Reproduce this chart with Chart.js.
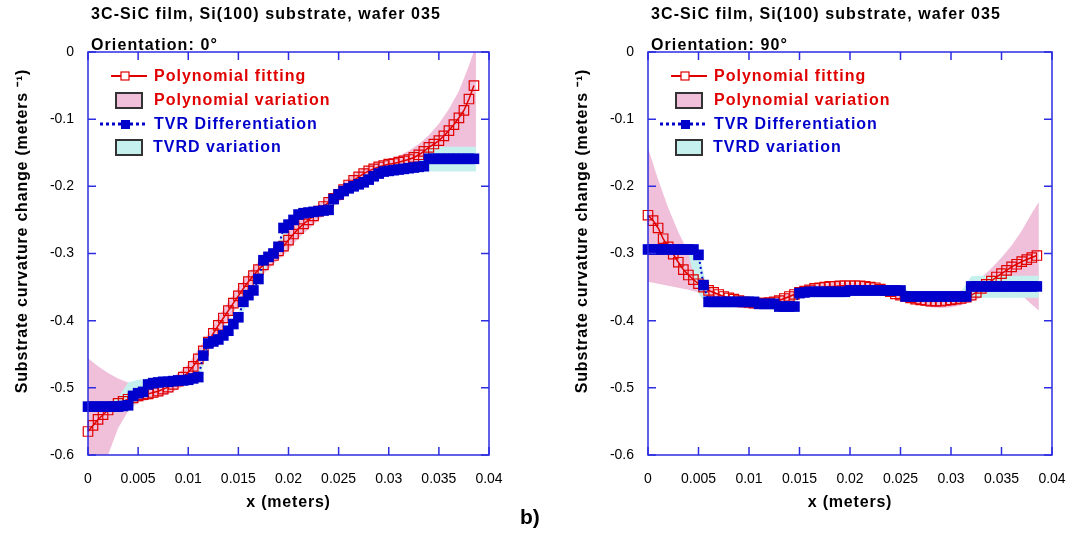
<!DOCTYPE html>
<html>
<head>
<meta charset="utf-8">
<script src="https://cdn.jsdelivr.net/npm/chart.js@4.4.1/dist/chart.umd.min.js"></script>
<style>
  body { margin: 0; background: #fff; width: 1072px; height: 533px; overflow: hidden; position: relative; }
  canvas { position: absolute; top: 0; }
  #c0 { left: 0; }
  #c90 { left: 536px; }
  #tag { position: absolute; left: 520px; top: 505px; font: bold 21px "Liberation Sans", Arial, sans-serif; }
</style>
</head>
<body>
<canvas id="c0" width="536" height="533"></canvas>
<canvas id="c90" width="536" height="533"></canvas>
<div id="tag">b)</div>
<script>
// x positions (meters) of the fitted / differentiated curves
const xFine = [0, 0.0005, 0.001, 0.0015, 0.002, 0.0025, 0.003, 0.0035, 0.004, 0.0045,
  0.005, 0.0055, 0.006, 0.0065, 0.007, 0.0075, 0.008, 0.0085, 0.009, 0.0095,
  0.010, 0.0105, 0.011, 0.0115, 0.012, 0.0125, 0.013, 0.0135, 0.014, 0.0145,
  0.015, 0.0155, 0.016, 0.0165, 0.017, 0.0175, 0.018, 0.0185, 0.019, 0.0195,
  0.020, 0.0205, 0.021, 0.0215, 0.022, 0.0225, 0.023, 0.0235, 0.024, 0.0245,
  0.025, 0.0255, 0.026, 0.0265, 0.027, 0.0275, 0.028, 0.0285, 0.029, 0.0295,
  0.030, 0.0305, 0.031, 0.0315, 0.032, 0.0325, 0.033, 0.0335, 0.034, 0.0345,
  0.035, 0.0355, 0.036, 0.0365, 0.037, 0.0375, 0.038, 0.0385];
// x positions of the variation bands
const xBand = [0, 0.001, 0.002, 0.003, 0.004, 0.005, 0.006, 0.007, 0.008, 0.009,
  0.010, 0.011, 0.012, 0.013, 0.014, 0.015, 0.016, 0.017, 0.018, 0.019,
  0.020, 0.021, 0.022, 0.023, 0.024, 0.025, 0.026, 0.027, 0.028, 0.029,
  0.030, 0.031, 0.032, 0.033, 0.034, 0.035, 0.036, 0.037, 0.038, 0.0387];

// Orientation 0 deg
const fit0 = [-0.565, -0.556, -0.547, -0.540, -0.533, -0.528, -0.523, -0.520, -0.517, -0.515,
  -0.512, -0.510, -0.509, -0.507, -0.505, -0.502, -0.499, -0.495, -0.490, -0.484,
  -0.477, -0.468, -0.457, -0.445, -0.432, -0.419, -0.407, -0.396, -0.385, -0.374,
  -0.363, -0.352, -0.342, -0.333, -0.324, -0.317, -0.310, -0.303, -0.296, -0.289,
  -0.280, -0.271, -0.263, -0.256, -0.250, -0.244, -0.237, -0.230, -0.224, -0.218,
  -0.212, -0.205, -0.198, -0.191, -0.186, -0.181, -0.177, -0.174, -0.171, -0.169,
  -0.167, -0.166, -0.164, -0.162, -0.160, -0.157, -0.153, -0.148, -0.142, -0.137,
  -0.132, -0.125, -0.117, -0.108, -0.098, -0.087, -0.070, -0.050];
const tvr0 = [-0.528, -0.528, -0.528, -0.528, -0.528, -0.528, -0.528, -0.527, -0.526, -0.512,
  -0.508, -0.506, -0.495, -0.493, -0.492, -0.491, -0.491, -0.490, -0.489, -0.489,
  -0.488, -0.486, -0.484, -0.452, -0.434, -0.431, -0.428, -0.422, -0.415, -0.405,
  -0.395, -0.372, -0.362, -0.355, -0.338, -0.310, -0.305, -0.300, -0.290, -0.262,
  -0.257, -0.250, -0.242, -0.240, -0.239, -0.238, -0.237, -0.236, -0.235, -0.219,
  -0.212, -0.207, -0.203, -0.200, -0.197, -0.194, -0.190, -0.185, -0.181, -0.178,
  -0.177, -0.176, -0.175, -0.174, -0.173, -0.172, -0.171, -0.170, -0.159, -0.159,
  -0.159, -0.159, -0.159, -0.159, -0.159, -0.159, -0.159, -0.159];
const polyHi0 = [-0.456, -0.468, -0.478, -0.486, -0.492, -0.496, -0.496, -0.493, -0.488, -0.478,
  -0.465, -0.443, -0.420, -0.395, -0.372, -0.350, -0.330, -0.312, -0.298, -0.284,
  -0.268, -0.252, -0.239, -0.227, -0.214, -0.202, -0.188, -0.177, -0.170, -0.165,
  -0.160, -0.155, -0.147, -0.137, -0.124, -0.107, -0.085, -0.058, -0.020, 0.010];
const polyLo0 = [-0.660, -0.630, -0.600, -0.560, -0.535, -0.522, -0.518, -0.514, -0.509, -0.502,
  -0.491, -0.472, -0.446, -0.420, -0.398, -0.377, -0.356, -0.338, -0.323, -0.309,
  -0.295, -0.277, -0.264, -0.250, -0.236, -0.224, -0.211, -0.199, -0.190, -0.184,
  -0.181, -0.179, -0.177, -0.176, -0.174, -0.171, -0.168, -0.163, -0.155, -0.143];
const tvrdHi0 = [-0.522, -0.522, -0.522, -0.515, -0.492, -0.488, -0.486, -0.485, -0.484, -0.483,
  -0.481, -0.476, -0.428, -0.420, -0.408, -0.388, -0.355, -0.330, -0.298, -0.283,
  -0.250, -0.236, -0.233, -0.231, -0.229, -0.205, -0.196, -0.190, -0.183, -0.175,
  -0.171, -0.169, -0.167, -0.163, -0.142, -0.141, -0.141, -0.141, -0.141, -0.141];
const tvrdLo0 = [-0.535, -0.535, -0.535, -0.535, -0.535, -0.520, -0.502, -0.499, -0.498, -0.497,
  -0.495, -0.492, -0.442, -0.436, -0.423, -0.403, -0.370, -0.346, -0.312, -0.298,
  -0.265, -0.250, -0.246, -0.244, -0.243, -0.219, -0.210, -0.204, -0.197, -0.188,
  -0.184, -0.182, -0.180, -0.179, -0.178, -0.178, -0.178, -0.178, -0.178, -0.178];

// Orientation 90 deg
const fit90 = [-0.243, -0.251, -0.262, -0.278, -0.290, -0.301, -0.313, -0.324, -0.332, -0.339,
  -0.345, -0.350, -0.355, -0.358, -0.361, -0.364, -0.366, -0.368, -0.370, -0.372,
  -0.373, -0.374, -0.374, -0.374, -0.373, -0.372, -0.370, -0.367, -0.364, -0.361,
  -0.358, -0.356, -0.354, -0.352, -0.351, -0.350, -0.349, -0.349, -0.348, -0.348,
  -0.348, -0.348, -0.348, -0.349, -0.350, -0.351, -0.353, -0.355, -0.357, -0.360,
  -0.362, -0.364, -0.366, -0.368, -0.369, -0.370, -0.371, -0.371, -0.371, -0.370,
  -0.369, -0.368, -0.367, -0.365, -0.362, -0.358, -0.352, -0.346, -0.341, -0.335,
  -0.330, -0.325, -0.320, -0.316, -0.312, -0.309, -0.306, -0.303];
const tvr90 = [-0.294, -0.294, -0.294, -0.294, -0.294, -0.294, -0.294, -0.294, -0.294, -0.294,
  -0.302, -0.347, -0.372, -0.372, -0.372, -0.372, -0.372, -0.372, -0.372, -0.372,
  -0.372, -0.372, -0.375, -0.375, -0.375, -0.375, -0.379, -0.379, -0.379, -0.379,
  -0.359, -0.358, -0.357, -0.357, -0.357, -0.357, -0.357, -0.357, -0.357, -0.357,
  -0.355, -0.355, -0.355, -0.355, -0.355, -0.355, -0.355, -0.355, -0.355, -0.355,
  -0.355, -0.364, -0.364, -0.364, -0.364, -0.364, -0.364, -0.364, -0.364, -0.364,
  -0.364, -0.364, -0.364, -0.364, -0.349, -0.349, -0.349, -0.349, -0.349, -0.349,
  -0.349, -0.349, -0.349, -0.349, -0.349, -0.349, -0.349, -0.349];
const polyHi90 = [-0.143, -0.190, -0.232, -0.268, -0.298, -0.328, -0.350, -0.360, -0.364, -0.366,
  -0.367, -0.367, -0.366, -0.364, -0.358, -0.352, -0.348, -0.346, -0.344, -0.343,
  -0.343, -0.343, -0.344, -0.346, -0.350, -0.354, -0.358, -0.361, -0.362, -0.362,
  -0.360, -0.355, -0.347, -0.336, -0.322, -0.306, -0.288, -0.266, -0.240, -0.223];
const polyLo90 = [-0.342, -0.345, -0.348, -0.351, -0.354, -0.358, -0.365, -0.372, -0.378, -0.381,
  -0.382, -0.382, -0.381, -0.378, -0.372, -0.366, -0.361, -0.358, -0.356, -0.355,
  -0.354, -0.354, -0.356, -0.359, -0.363, -0.368, -0.373, -0.377, -0.380, -0.381,
  -0.380, -0.377, -0.372, -0.366, -0.360, -0.356, -0.355, -0.362, -0.376, -0.385];
const tvrdHi90 = [-0.287, -0.287, -0.287, -0.287, -0.287, -0.292, -0.365, -0.365, -0.365, -0.365,
  -0.365, -0.368, -0.368, -0.372, -0.372, -0.352, -0.350, -0.350, -0.350, -0.350,
  -0.348, -0.348, -0.348, -0.348, -0.348, -0.348, -0.357, -0.357, -0.357, -0.357,
  -0.357, -0.357, -0.334, -0.333, -0.333, -0.333, -0.333, -0.333, -0.333, -0.333];
const tvrdLo90 = [-0.301, -0.301, -0.301, -0.301, -0.301, -0.360, -0.379, -0.379, -0.379, -0.379,
  -0.379, -0.382, -0.382, -0.386, -0.386, -0.364, -0.364, -0.364, -0.364, -0.364,
  -0.362, -0.362, -0.362, -0.362, -0.362, -0.362, -0.371, -0.371, -0.371, -0.371,
  -0.371, -0.371, -0.366, -0.366, -0.366, -0.366, -0.366, -0.366, -0.366, -0.366];

const chartTitle = '3C-SiC film, Si(100) substrate, wafer 035';
const yTitle = 'Substrate curvature change (meters \u207B\u00B9)';
const xTitle = 'x (meters)';
const legendNames = ['Polynomial fitting', 'Polynomial variation', 'TVR Differentiation', 'TVRD variation'];

const FONT = '"Liberation Sans", Arial, sans-serif';
const RED = '#e00000';
const BLUE = '#0000cc';
const PINK = 'rgb(240,192,218)';
const CYAN = 'rgb(198,240,237)';
const AXIS_BLUE = 'rgb(45,45,225)';

function pts(xs, ys) {
    return xs.map(function (x, i) { return { x: x, y: ys[i] }; });
}

// blue frame with inward ticks on all four sides
const frameTicks = {
    id: 'frameTicks',
    afterDatasetsDraw(chart) {
        const ctx = chart.ctx, a = chart.chartArea, sx = chart.scales.x, sy = chart.scales.y;
        ctx.save();
        ctx.strokeStyle = AXIS_BLUE;
        ctx.lineWidth = 1.5;
        ctx.strokeRect(a.left, a.top, a.right - a.left, a.bottom - a.top);
        ctx.beginPath();
        sx.ticks.forEach(function (t) {
            const p = sx.getPixelForValue(t.value);
            ctx.moveTo(p, a.bottom); ctx.lineTo(p, a.bottom - 8);
            ctx.moveTo(p, a.top); ctx.lineTo(p, a.top + 8);
        });
        sy.ticks.forEach(function (t) {
            const p = sy.getPixelForValue(t.value);
            ctx.moveTo(a.left, p); ctx.lineTo(a.left + 8, p);
            ctx.moveTo(a.right, p); ctx.lineTo(a.right - 8, p);
        });
        ctx.stroke();
        ctx.restore();
    }
};

// titles, axis titles and the in-plot legend
const decor = {
    id: 'decor',
    afterDraw(chart, args, opts) {
        const ctx = chart.ctx, a = chart.chartArea, L = a.left;
        ctx.save();
        ctx.letterSpacing = '1.1px';
        ctx.font = 'bold 16px ' + FONT;
        ctx.fillStyle = '#000';
        ctx.textAlign = 'left';
        ctx.textBaseline = 'alphabetic';
        ctx.fillText(chartTitle, L + 3, 19);
        ctx.fillText('Orientation: ' + opts.angle + '\u00B0', L + 3, 50);

        // x title
        ctx.letterSpacing = '0.8px';
        ctx.textAlign = 'center';
        ctx.fillText(xTitle, (a.left + a.right) / 2, 507);

        // y title
        ctx.save();
        ctx.translate(L - 65, 231);
        ctx.rotate(-Math.PI / 2);
        ctx.textBaseline = 'middle';
        ctx.fillText(yTitle, 0, 0);
        ctx.restore();

        // legend
        ctx.letterSpacing = '1px';
        ctx.textAlign = 'left';
        ctx.textBaseline = 'middle';
        ctx.font = 'bold 16px ' + FONT;

        ctx.strokeStyle = RED;
        ctx.lineWidth = 2;
        ctx.beginPath(); ctx.moveTo(L + 23, 76); ctx.lineTo(L + 59, 76); ctx.stroke();
        ctx.fillStyle = '#fff';
        ctx.fillRect(L + 33, 72, 8, 8);
        ctx.lineWidth = 1.2;
        ctx.strokeRect(L + 33, 72, 8, 8);
        ctx.fillStyle = RED;
        ctx.fillText(legendNames[0], L + 66, 77);

        ctx.fillStyle = PINK;
        ctx.fillRect(L + 28, 93, 26, 15);
        ctx.strokeStyle = '#333';
        ctx.lineWidth = 2;
        ctx.strokeRect(L + 28, 93, 26, 15);
        ctx.fillStyle = RED;
        ctx.fillText(legendNames[1], L + 66, 101);

        ctx.strokeStyle = BLUE;
        ctx.lineWidth = 3;
        ctx.setLineDash([3, 3]);
        ctx.beginPath(); ctx.moveTo(L + 12, 124); ctx.lineTo(L + 59, 124); ctx.stroke();
        ctx.setLineDash([]);
        ctx.fillStyle = BLUE;
        ctx.fillRect(L + 33, 120, 9, 9);
        ctx.fillText(legendNames[2], L + 66, 125);

        ctx.fillStyle = CYAN;
        ctx.fillRect(L + 28, 140, 26, 15);
        ctx.strokeStyle = '#333';
        ctx.lineWidth = 2;
        ctx.strokeRect(L + 28, 140, 26, 15);
        ctx.fillStyle = BLUE;
        ctx.fillText(legendNames[3], L + 65, 148);
        ctx.restore();
    }
};

function makeChart(id, angle, fit, tvr, polyHi, polyLo, tvrdHi, tvrdLo, yWidth, padRight) {
    const ctx = document.getElementById(id).getContext('2d');
    return new Chart(ctx, {
        type: 'line',
        data: {
            datasets: [
                { // TVR Differentiation
                    data: pts(xFine, tvr),
                    borderColor: BLUE, borderWidth: 2, borderDash: [2, 3],
                    pointStyle: 'rect', pointRadius: 7.5,
                    pointBackgroundColor: BLUE, pointBorderColor: BLUE, pointBorderWidth: 0,
                    clip: false
                },
                { // Polynomial fitting
                    data: pts(xFine, fit),
                    borderColor: RED, borderWidth: 1.5,
                    pointStyle: 'rect', pointRadius: 6.7,
                    pointBackgroundColor: 'rgba(0,0,0,0)', pointBorderColor: RED, pointBorderWidth: 1.2,
                    clip: false
                },
                { // TVRD variation (upper, filled to lower)
                    data: pts(xBand, tvrdHi),
                    borderWidth: 0, pointRadius: 0,
                    backgroundColor: CYAN, fill: '+1'
                },
                { data: pts(xBand, tvrdLo), borderWidth: 0, pointRadius: 0, fill: false },
                { // Polynomial variation (upper, filled to lower)
                    data: pts(xBand, polyHi),
                    borderWidth: 0, pointRadius: 0,
                    backgroundColor: PINK, fill: '+1'
                },
                { data: pts(xBand, polyLo), borderWidth: 0, pointRadius: 0, fill: false }
            ]
        },
        options: {
            responsive: false,
            animation: false,
            devicePixelRatio: 1,
            layout: { padding: { top: 52, right: padRight, bottom: 0, left: 0 } },
            plugins: {
                legend: { display: false },
                tooltip: { enabled: false },
                decor: { angle: angle }
            },
            scales: {
                x: {
                    type: 'linear', min: 0, max: 0.04,
                    afterFit: function (s) { s.height = 78; s.paddingLeft = 0; s.paddingRight = 0; },
                    grid: { display: false, drawTicks: false },
                    border: { display: false },
                    ticks: {
                        stepSize: 0.005, padding: 16, color: '#000', autoSkip: false, maxRotation: 0,
                        font: { family: FONT, size: 14 },
                        callback: function (v) { return String(parseFloat(v.toFixed(3))); }
                    }
                },
                y: {
                    min: -0.6, max: 0,
                    afterFit: function (s) { s.width = yWidth; s.paddingTop = 0; s.paddingBottom = 0; },
                    grid: { display: false, drawTicks: false },
                    border: { display: false },
                    ticks: {
                        stepSize: 0.1, padding: 14, color: '#000',
                        font: { family: FONT, size: 14 },
                        callback: function (v) { return String(parseFloat(v.toFixed(1))); }
                    }
                }
            }
        },
        plugins: [frameTicks, decor]
    });
}

makeChart('c0', '0', fit0, tvr0, polyHi0, polyLo0, tvrdHi0, tvrdLo0, 88, 47);
makeChart('c90', '90', fit90, tvr90, polyHi90, polyLo90, tvrdHi90, tvrdLo90, 112, 20);
</script>
</body>
</html>
